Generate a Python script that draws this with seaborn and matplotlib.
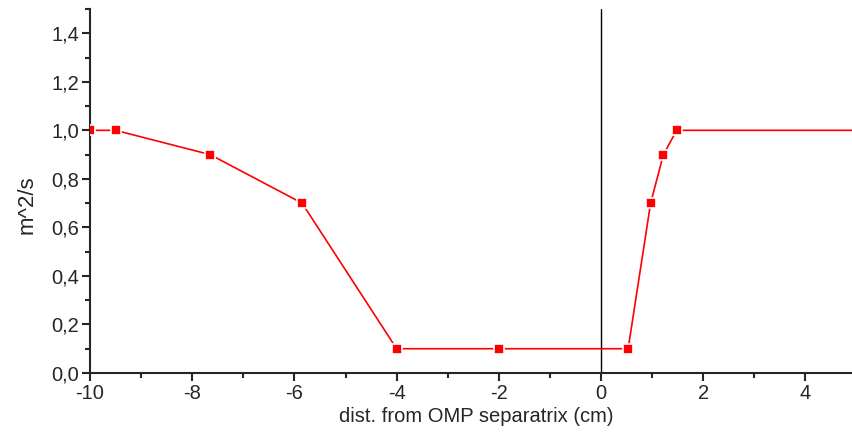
import matplotlib
matplotlib.use("Agg")
import matplotlib.pyplot as plt
import seaborn as sns
import pandas as pd
from matplotlib.ticker import MultipleLocator, FuncFormatter

x_cm = [-10.0, -9.5, -7.65, -5.85, -4.0, -2.0, 0.53, 0.97, 1.22, 1.48, 5.5]
d_m2s = [1.0, 1.0, 0.9, 0.7, 0.1, 0.1, 0.1, 0.7, 0.9, 1.0, 1.0]
x_label = "dist. from OMP separatrix (cm)"
y_label = "m^2/s"

sns.set_style("ticks")
plt.rcParams['font.family'] = ['Liberation Sans', 'DejaVu Sans']

df = pd.DataFrame({"x": x_cm, "y": d_m2s})

fig = plt.figure(figsize=(8.53, 4.41), dpi=100)
ax_w = 1 - 90/853 + 0.01
ax = fig.add_axes([90/853, 68/441, ax_w, (373 - 9)/441])

sns.lineplot(data=df, x="x", y="y", ax=ax, sort=False, color="#ff0000",
             linewidth=1.2, marker="s", markersize=7, markeredgecolor="white",
             markeredgewidth=1.2, markerfacecolor="#ff0000", zorder=3)
ax.axvline(0, color="black", linewidth=1.0, zorder=2)

ax.set_xlim(-10, 4.93 + 0.01 * 853 / 51.1)
ax.set_ylim(0, 1.5)
ax.xaxis.set_major_locator(MultipleLocator(2))
ax.xaxis.set_minor_locator(MultipleLocator(1))
ax.yaxis.set_major_locator(MultipleLocator(0.2))
ax.yaxis.set_minor_locator(MultipleLocator(0.1))
ax.yaxis.set_major_formatter(FuncFormatter(lambda v, p: f"{v:.1f}".replace(".", ",")))
ax.xaxis.set_major_formatter(FuncFormatter(lambda v, p: f"{v:g}"))

for s in ["top", "right"]:
    ax.spines[s].set_visible(False)
for s in ["left", "bottom"]:
    ax.spines[s].set_linewidth(1.5)

ax.tick_params(which="major", direction="out", length=6, width=1.5, labelsize=14.5, pad=2)
ax.tick_params(which="minor", direction="out", length=3.5, width=1.5)
ax.set_xlabel(x_label, fontsize=14.5, labelpad=3)
ax.set_ylabel(y_label, fontsize=16)
ax.yaxis.set_label_coords((38 - 90) / (ax_w * 853), (373 - 205) / 364)

fig.savefig("out.png", dpi=100)
